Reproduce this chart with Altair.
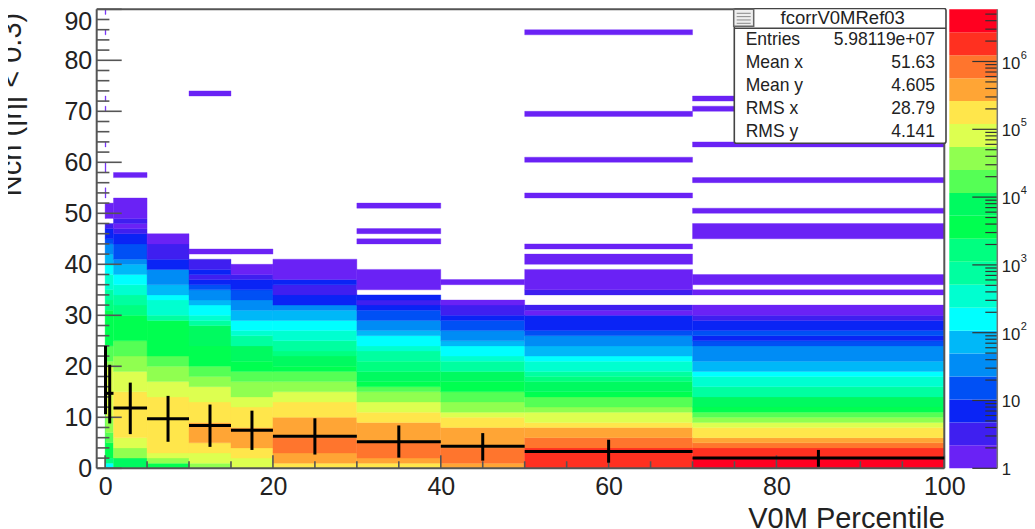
import altair as alt
import pandas as pd

FONT = "Liberation Sans"
INK = "#222222"
LINE = "#555555"

level_colors = ["#6A22F5", "#3F1FF0", "#0A24F5", "#0050F5", "#008CF5", "#00B8F8", "#00FFFF",
                "#00FFD0", "#00FFA0", "#00FF80", "#00FF50", "#00FA60", "#55FF55", "#90FF50",
                "#DDFF50", "#FFE64B", "#FFA535", "#FF752D", "#FF3020", "#FF0020"]

x_edges = [0, 0.1, 1, 5, 10, 15, 20, 30, 40, 50, 70, 100]

# each column: [colour level, number of unit-height Ncn bins], bottom to top; None = empty
col_00 = [[10, 6], [12, 6], [14, 8], [12, 4], [10, 7], [8, 4], [7, 3], [6, 2], [5, 2], [4, 2], [3, 1], [2, 2], [1, 1],
          [None, 1], [0, 3], [None, 1], [0, 2], [None, 3], [0, 2], [None, 3], [0, 1], [None, 6], [0, 1], [None, 1],
          [0, 1], [None, 12], [0, 1], [None, 3], [0, 1]]
col_01 = [[6, 1], [9, 1], [10, 3], [12, 2], [13, 3], [14, 10], [13, 1], [12, 3], [10, 7], [9, 2], [8, 2], [7, 3],
          [6, 2], [5, 2], [4, 2], [3, 1], [2, 2], [1, 1], [None, 1], [0, 3]]
col_02 = [[11, 2], [13, 2], [14, 2], [15, 9], [14, 4], [13, 3], [12, 3], [10, 5], [9, 2], [8, 2], [7, 2], [6, 2],
          [5, 2], [4, 1], [3, 3], [2, 2], [1, 1], [0, 1], [1, 1], [0, 4], [None, 4], [0, 1]]
col_03 = [[10, 1], [13, 1], [14, 1], [15, 11], [14, 3], [13, 3], [12, 2], [10, 7], [8, 1], [7, 3], [6, 1], [5, 2],
          [4, 3], [2, 2], [1, 3], [0, 2]]
col_04 = [[13, 1], [14, 2], [15, 2], [16, 4], [15, 4], [14, 3], [13, 2], [12, 2], [10, 4], [11, 4], [8, 1], [7, 1],
          [6, 2], [5, 1], [4, 2], [3, 1], [2, 1], [1, 1], [2, 1], [1, 2], [None, 1], [0, 1], [None, 30], [0, 1]]
col_05 = [[14, 2], [15, 2], [16, 4], [15, 4], [14, 2], [13, 3], [12, 2], [10, 2], [11, 3], [8, 2], [7, 1], [6, 2],
          [5, 2], [4, 2], [3, 2], [2, 2], [1, 1], [0, 2], [None, 2], [0, 1]]
col_06 = [[15, 1], [16, 2], [17, 3], [16, 4], [15, 3], [14, 2], [13, 2], [12, 2], [10, 1], [11, 2], [9, 1], [8, 2],
          [7, 2], [6, 2], [5, 2], [4, 1], [2, 2], [1, 2], [2, 1], [0, 4]]
col_07 = [[15, 1], [16, 1], [17, 3], [16, 4], [15, 2], [14, 2], [13, 2], [12, 1], [10, 1], [11, 2], [9, 2], [8, 2],
          [7, 1], [6, 2], [5, 1], [4, 2], [3, 2], [2, 1], [1, 1], [2, 1], [None, 1], [0, 4], [None, 5], [0, 1],
          [None, 1], [0, 1], [None, 4], [0, 1]]
col_08 = [[16, 1], [17, 3], [16, 4], [15, 2], [14, 1], [13, 2], [12, 2], [10, 2], [11, 2], [8, 2], [7, 1], [6, 2],
          [5, 1], [4, 2], [3, 2], [2, 1], [1, 2], [0, 1], [None, 3], [0, 1]]
col_09 = [[18, 4], [17, 2], [16, 2], [15, 1], [14, 2], [13, 1], [12, 2], [10, 1], [11, 2], [9, 1], [8, 1], [7, 2],
          [6, 1], [5, 2], [4, 2], [3, 1], [2, 3], [0, 1], [1, 1], [None, 2], [1, 1], [0, 4], [None, 1], [0, 2],
          [None, 1], [0, 1], [None, 9], [0, 1], [None, 6], [0, 1], [None, 8], [0, 1], [None, 15], [0, 1]]
col_10 = [[19, 2], [18, 2], [17, 1], [16, 1], [15, 2], [14, 1], [13, 1], [12, 1], [10, 1], [11, 2], [8, 2], [7, 2],
          [6, 1], [5, 2], [4, 3], [3, 1], [2, 1], [3, 1], [2, 2], [1, 1], [0, 2], [None, 2], [0, 1], [None, 1],
          [0, 2], [None, 7], [0, 3], [None, 2], [0, 1], [None, 5], [0, 1], [None, 6], [0, 1], [None, 6], [0, 1],
          [None, 1], [0, 1]]
columns = [col_00, col_01, col_02, col_03, col_04, col_05, col_06, col_07, col_08, col_09, col_10]

# black profile: bin centre / edges, mean, mean - rms, mean + rms
prof_x0 = [0, 0.1, 1, 5, 10, 15, 20, 30, 40, 50, 70]
prof_x1 = [0.1, 1, 5, 10, 15, 20, 30, 40, 50, 70, 100]
prof_xc = [0.05, 0.55, 3, 7.5, 12.5, 17.5, 25, 35, 45, 60, 85]
prof_mean = [17.3, 14.7, 11.8, 9.7, 8.4, 7.45, 6.3, 5.2, 4.3, 3.3, 2.0]
prof_lo = [10.6, 8.8, 6.7, 5.2, 4.2, 3.6, 2.7, 2.1, 1.5, 1.1, 0.3]
prof_hi = [24.0, 20.3, 16.8, 14.2, 12.5, 11.3, 9.8, 8.4, 6.9, 5.6, 3.6]

cb_edges = [1, 2.18, 4.75, 10.36, 22.6, 49.3, 107, 234, 511, 1113, 2427, 5290, 11535, 25150, 54830,
            119500, 260600, 568000, 1239000, 2701000, 5888000]

y_major = [0, 10, 20, 30, 40, 50, 60, 70, 80, 90]
y_minor = [v for v in range(0, 90, 2) if v % 10 != 0]
x_major = [0, 20, 40, 60, 80, 100]
x_minor = [5, 10, 15, 25, 30, 35, 45, 50, 55, 65, 70, 75, 85, 90, 95]

cb_major = [1, 10, 100, 1000, 10000, 100000, 1000000]
cb_minor = [m * d for d in [1, 10, 100, 1000, 10000, 100000, 1000000] for m in range(2, 10) if m * d < 5888000]
cb_base_vals = [1, 10, 100, 1000, 10000, 100000, 1000000]
cb_base_text = ["1", "10", "10", "10", "10", "10", "10"]
cb_exp_vals = [100, 1000, 10000, 100000, 1000000]
cb_exp_text = ["2", "3", "4", "5", "6"]

stat_names = ["Entries", "Mean x", "Mean y", "RMS x", "RMS y"]
stat_values = ["5.98119e+07", "51.63", "4.605", "28.79", "4.141"]

rows = []
for i, runs in enumerate(columns):
    y = 0
    for lev, n in runs:
        if lev is not None:
            rows.append({"x0": x_edges[i], "x1": x_edges[i + 1], "y0": y, "y1": y + n, "level": lev})
        y += n
cells = pd.DataFrame(rows)
prof = pd.DataFrame({"x0": prof_x0, "x1": prof_x1, "xc": prof_xc, "m": prof_mean, "lo": prof_lo, "hi": prof_hi})

W, H = 847.6, 459
xs = alt.Scale(domain=[-1, 100], nice=False, zero=False)
ys = alt.Scale(domain=[0, 90], nice=False, zero=False)
cs = alt.Scale(type="log", domain=[1, 5888000], nice=False, base=10)
lv = alt.Scale(domain=list(range(20)), range=level_colors)

heat = alt.Chart(cells).mark_rect(strokeWidth=0.35).encode(
    x=alt.X("x0:Q", scale=xs, axis=alt.Axis(
        values=x_major, tickSize=0, domain=False, grid=False, labelFont=FONT, labelFontSize=25, labelColor=INK,
        labelPadding=6, format="d", labelFlush=False, title="V0M Percentile", titleFont=FONT, titleFontSize=29,
        titleFontWeight="normal", titleColor=INK, titleAlign="right", titleAnchor="end", titleBaseline="alphabetic",
        titleX=W, titleY=59.5)),
    x2="x1:Q",
    y=alt.Y("y0:Q", scale=ys, axis=alt.Axis(
        values=y_major, tickSize=0, domain=False, grid=False, labelFont=FONT, labelFontSize=25, labelColor=INK,
        labelPadding=5, format="d", labelFlush=False, labelBaseline=alt.expr("datum.value == 90 ? 'top' : 'middle'"),
        title="Nch (|\u03b7| < 0.3)", titleFont=FONT, titleFontSize=29, titleFontWeight="normal", titleColor=INK,
        titleAngle=270, titleAlign="right", titleBaseline="alphabetic", titleX=-76, titleY=3)),
    y2="y1:Q",
    color=alt.Color("level:O", scale=lv, legend=None),
    stroke=alt.Stroke("level:O", scale=lv, legend=None),
)

def hline(values, length, width=1.6):
    return alt.Chart(pd.DataFrame({"v": values})).mark_rule(color=LINE, strokeWidth=width).encode(
        y=alt.Y("v:Q", scale=ys, axis=None), x=alt.value(0), x2=alt.value(length))

def vline(values, length, width=1.6):
    return alt.Chart(pd.DataFrame({"v": values})).mark_rule(color=LINE, strokeWidth=width).encode(
        x=alt.X("v:Q", scale=xs, axis=None), y=alt.value(H), y2=alt.value(H - length))

frame_h = alt.Chart(pd.DataFrame({"v": [0, 90]})).mark_rule(color=LINE, strokeWidth=2).encode(
    y=alt.Y("v:Q", scale=ys, axis=None), x=alt.value(0), x2=alt.value(W))
frame_v = alt.Chart(pd.DataFrame({"v": [-1, 100]})).mark_rule(color=LINE, strokeWidth=2).encode(
    x=alt.X("v:Q", scale=xs, axis=None), y=alt.value(0), y2=alt.value(H))

bar_h = alt.Chart(prof).mark_rule(color="black", strokeWidth=3).encode(
    x=alt.X("x0:Q", scale=xs, axis=None), x2="x1:Q", y=alt.Y("m:Q", scale=ys, axis=None))
bar_v = alt.Chart(prof).mark_rule(color="black", strokeWidth=3).encode(
    x=alt.X("xc:Q", scale=xs, axis=None), y=alt.Y("lo:Q", scale=ys, axis=None), y2="hi:Q")

cb_df = pd.DataFrame({"a": [0] * 20, "b": [1] * 20, "lo": cb_edges[:-1], "hi": cb_edges[1:], "level": list(range(20))})
cb = alt.Chart(cb_df).mark_rect(strokeWidth=0).encode(
    x=alt.X("a:Q", scale=alt.Scale(domain=[0, 1], range=[852.6, 900.6]), axis=None), x2="b:Q",
    y=alt.Y("lo:Q", scale=cs, axis=None), y2="hi:Q",
    color=alt.Color("level:O", scale=lv, legend=None))

def cbtick(values, length):
    return alt.Chart(pd.DataFrame({"v": values})).mark_rule(color="#333333", strokeWidth=1.2).encode(
        y=alt.Y("v:Q", scale=cs, axis=None), x=alt.value(900.6 - length), x2=alt.value(900.6))

cb_edge = alt.Chart(pd.DataFrame({"v": [0]})).mark_rule(color="#777777", strokeWidth=1.5).encode(
    x=alt.value(900.6), y=alt.value(0), y2=alt.value(H))

cb_base = alt.Chart(pd.DataFrame({"v": cb_base_vals, "t": cb_base_text})).mark_text(
    font=FONT, fontSize=16.7, color=INK, align="left", baseline="middle", dy=2).encode(
    y=alt.Y("v:Q", scale=cs, axis=None), x=alt.value(905), text="t:N")
cb_exp = alt.Chart(pd.DataFrame({"v": cb_exp_vals, "t": cb_exp_text})).mark_text(
    font=FONT, fontSize=11, color=INK, align="left", baseline="middle", dy=-6).encode(
    y=alt.Y("v:Q", scale=cs, axis=None), x=alt.value(924), text="t:N")

# statistics box
BX0, BX1, BY0, BY1 = 637.6, 849.3, -0.8, 134
box = alt.Chart(pd.DataFrame({"v": [0]})).mark_rect(
    fill="white", stroke="#444444", strokeWidth=1.6, cornerRadius=2, clip=False).encode(
    x=alt.value(BX0), x2=alt.value(BX1), y=alt.value(BY0), y2=alt.value(BY1))
box_sep = alt.Chart(pd.DataFrame({"v": [0]})).mark_rule(color="#444444", strokeWidth=1.6).encode(
    x=alt.value(BX0), x2=alt.value(BX1), y=alt.value(19))
icon = alt.Chart(pd.DataFrame({"v": [0]})).mark_rect(fill="#eeeeee", stroke="#666666", strokeWidth=1.5).encode(
    x=alt.value(637), x2=alt.value(657), y=alt.value(0), y2=alt.value(17))
icon_l = alt.Chart(pd.DataFrame({"r": [0, 1, 2, 3]})).mark_rule(color="#888888", strokeWidth=1).encode(
    y=alt.Y("r:Q", scale=alt.Scale(domain=[0, 3], range=[4, 14]), axis=None),
    x=alt.value(640), x2=alt.value(654))
box_title = alt.Chart(pd.DataFrame({"t": ["fcorrV0MRef03"]})).mark_text(
    font=FONT, fontSize=18.5, color=INK, align="center", baseline="middle").encode(
    x=alt.value(746), y=alt.value(8.7), text="t:N")
rowscale = alt.Scale(domain=[0, 4], range=[30.7, 123.2])
stat_df = pd.DataFrame({"r": list(range(5)), "n": stat_names, "s": stat_values})
stat_n = alt.Chart(stat_df).mark_text(font=FONT, fontSize=17.5, color=INK, align="left", baseline="middle").encode(
    y=alt.Y("r:Q", scale=rowscale, axis=None), x=alt.value(649), text="n:N")
stat_s = alt.Chart(stat_df).mark_text(font=FONT, fontSize=17.5, color=INK, align="right", baseline="middle").encode(
    y=alt.Y("r:Q", scale=rowscale, axis=None), x=alt.value(838.3), text="s:N")

chart = alt.layer(
    heat, hline(y_major, 25), hline(y_minor, 12.7), vline(x_major, 13), vline(x_minor, 7),
    frame_h, frame_v, bar_h, bar_v,
    cb, cbtick(cb_major, 25), cbtick(cb_minor, 12), cb_edge, cb_base, cb_exp,
    box, box_sep, icon, icon_l, box_title, stat_n, stat_s,
).resolve_scale(x="independent", y="independent").properties(
    width=W, height=H,
    autosize=alt.AutoSizeParams(type="none"),
    padding={"left": 88.7, "top": 1.3, "right": 82.7, "bottom": 60},
    background="white",
).configure_view(stroke=None)

chart.save("out.html", embed_options={"renderer": "svg", "actions": False})
